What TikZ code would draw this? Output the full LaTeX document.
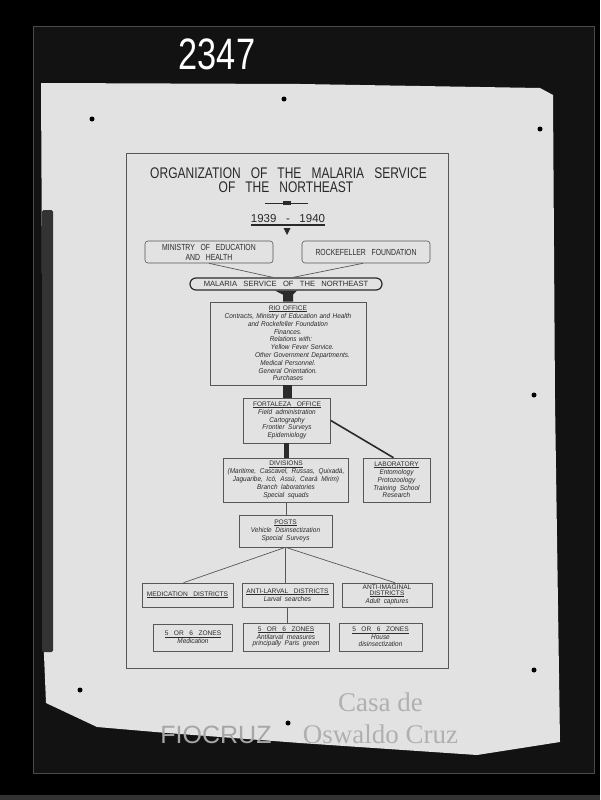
\documentclass[tikz,border=0pt]{standalone}
\usepackage{fontspec}
\usepackage{xcolor}
\usepackage{tikz}
\setmainfont{Liberation Sans}
\newfontfamily\leroy{Liberation Sans}[FakeStretch=0.78,WordSpace=3]
\newfontfamily\leroywide{Liberation Sans}[WordSpace=3]
\newfontfamily\leroyit{Liberation Sans}[FakeStretch=0.92,WordSpace=2]
\newfontfamily\wmserif{Liberation Serif}

\definecolor{paper}{HTML}{E2E2E2}
\definecolor{ink}{HTML}{2A2A2A}
\definecolor{rulegray}{HTML}{575757}
\definecolor{framedark}{HTML}{121212}
\definecolor{framegray}{HTML}{4A4A4A}
\definecolor{stripgray}{HTML}{333333}
\definecolor{watermark}{HTML}{B0B0B0}

\newcommand{\boxcap}[1]{{\leroywide\upshape\fontsize{6.6}{7.8}\selectfont #1}}
\newcommand{\boxhead}[1]{\boxcap{\setbox0\hbox{#1}\rlap{\rule[-1.1pt]{\wd0}{0.45pt}}\box0}}
\newcommand{\flushline}{\hskip 0pt plus 1filll}

\begin{document}
\begin{tikzpicture}[
    x=1pt, y=-1pt,
    line width=0.6pt,
    orgbox/.style={draw=rulegray, line width=0.6pt, inner xsep=4pt, inner ysep=2pt,
        align=center, text=ink, font=\leroyit\itshape\fontsize{7}{7.8}\selectfont},
    capbox/.style={orgbox, rounded corners=3pt, font=\leroy\fontsize{8.8}{10}\selectfont},
    link/.style={draw=rulegray, line width=0.7pt},
    bigtext/.style={text=ink, inner sep=0pt, anchor=base}
]

\useasboundingbox (0,0) rectangle (600,800);

% =========================================================
% PHOTO: plate, paper sheet, pins
% =========================================================
\fill[black] (0,0) rectangle (600,800);
\fill[framedark] (33,26) rectangle (594,773);
\draw[framegray, line width=0.8pt] (33,26) rectangle (594,773);
\fill[stripgray] (0,795) rectangle (600,800);

% paper sheet
\fill[paper] (41,83) -- (300,84) -- (540,88) -- (553,95) -- (555,400) -- (560,742)
    -- (477,755) -- (300,743) -- (167,733) -- (97,727) -- (46,703) -- (44,655) -- cycle;
\fill[stripgray, rounded corners=1.5pt] (42,210) rectangle (53,652);

% plate number
\node[font=\leroy\fontsize{44}{44}\selectfont, text=white, inner sep=0pt, anchor=base] (platenum) at (217,70) {2347};

% pins
\foreach \px/\py in {92/119, 284/99, 540/129, 534/395, 534/670, 80/690, 288/723}
    \fill[black] (\px,\py) circle (2.5pt);

% =========================================================
% CHART: title
% =========================================================
\draw[rulegray, line width=0.5pt] (126,153) rectangle (448,668);

\node[bigtext, font=\leroy\fontsize{15.4}{16}\selectfont] (title) at (288.5,178) {ORGANIZATION OF THE MALARIA SERVICE};
\node[bigtext, font=\leroy\fontsize{15.4}{16}\selectfont] (subtitle) at (286,192) {OF THE NORTHEAST};

% ornament and years
\draw[ink, line width=1pt] (265,203) -- (308,203);
\fill[ink] (283,201.3) rectangle (291,204.7);
\node[bigtext, font=\leroywide\fontsize{11.5}{12}\selectfont] (year) at (288,222) {1939 - 1940};
\draw[ink, line width=1.3pt] ([yshift=-3pt]year.base west) -- ([yshift=-3pt]year.base east);
\fill[ink] (283.5,228) -- (290.5,228) -- (287,235) -- cycle;

% =========================================================
% CHART: boxes
% =========================================================
\node[capbox, minimum width=128pt, minimum height=22pt] (min) at (209,252) {MINISTRY OF EDUCATION\\AND HEALTH};
\node[capbox, minimum width=128pt, minimum height=22pt] (rock) at (366,252) {ROCKEFELLER FOUNDATION};
\node[capbox, font=\leroywide\fontsize{7.6}{8}\selectfont, draw=ink, line width=1.2pt, rounded corners=6pt,
    minimum width=192pt, minimum height=12pt, inner ysep=1pt] (msn) at (286,284) {MALARIA SERVICE OF THE NORTHEAST};

\node[orgbox, text width=148pt, minimum height=83pt] (rio) at (288,343.5) {%
    \boxhead{RIO OFFICE}\\
    Contracts, Ministry of Education and Health\\
    and Rockefeller Foundation\\
    Finances.\\
    \hspace*{6pt}Relations with:\flushline\\
    \hspace*{29pt}Yellow Fever Service.\flushline\\
    \hspace*{29pt}Other Government Departments.\flushline\\
    Medical Personnel.\\
    General Orientation.\\
    Purchases};

\node[orgbox, minimum width=87pt, minimum height=45pt] (fort) at (287,420.5) {%
    \boxhead{FORTALEZA OFFICE}\\ Field administration\\ Cartography\\ Frontier Surveys\\ Epidemiology};

\node[orgbox, minimum width=124pt, minimum height=44pt] (div) at (286,480) {%
    \boxhead{DIVISIONS}\\ (Maritime, Cascavel, Russas, Quixadá,\\ Jaguaribe, Icó, Assú, Ceará Mirim)\\
    Branch laboratories\\ Special squads};
\node[orgbox, minimum width=67pt, minimum height=44pt] (lab) at (396.5,480) {%
    \boxhead{LABORATORY}\\ Entomology\\ Protozoology\\ Training School\\ Research};

\node[orgbox, minimum width=93pt, minimum height=32pt] (posts) at (285.5,531) {%
    \boxhead{POSTS}\\ Vehicle Disinsectization\\ Special Surveys};

% districts
\node[orgbox, minimum width=91pt, minimum height=24pt] (med) at (187.5,595) {\boxhead{MEDICATION DISTRICTS}};
\node[orgbox, minimum width=91pt, minimum height=24pt] (larv) at (287.5,595) {%
    \boxhead{ANTI-LARVAL DISTRICTS}\\ Larval searches};
\node[orgbox, minimum width=90pt, minimum height=24pt, inner ysep=1pt] (imag) at (387,595) {%
    \boxcap{ANTI-IMAGINAL}\\[-1.5pt] \boxhead{DISTRICTS}\\ Adult captures};

% zones
\node[orgbox, minimum width=79pt, minimum height=27pt] (zmed) at (193,637.5) {%
    \boxhead{5 OR 6 ZONES}\\ Medication};
\node[orgbox, minimum width=86pt, minimum height=28pt, inner ysep=1pt] (zlarv) at (286,637) {%
    \boxhead{5 OR 6 ZONES}\\ Antilarval measures\\[-1pt] principally Paris green};
\node[orgbox, minimum width=83pt, minimum height=28pt, inner ysep=1pt] (zimag) at (380.5,637) {%
    \boxhead{5 OR 6 ZONES}\\ House\\[-1pt] disinsectization};

% =========================================================
% CHART: connectors
% =========================================================
\draw[link] (min.south) -- ([xshift=-13pt]msn.north);
\draw[link] ([xshift=-3pt]rock.south) -- ([xshift=7pt]msn.north);

% funnel and heavy bars
\fill[ink] ([xshift=-11pt]msn.south) -- ([xshift=11pt]msn.south) -- ([xshift=5pt,yshift=7pt]rio.north)
    -- ([xshift=5pt]rio.north) -- ([xshift=-5pt]rio.north) -- ([xshift=-5pt,yshift=7pt]rio.north) -- cycle;
\fill[ink] ([xshift=-5pt]rio.south) rectangle ([xshift=5pt]fort.north);
\fill[ink] ([xshift=-3pt]fort.south) rectangle ([xshift=3pt]div.north);
\draw[ink, line width=1.6pt] (fort.east) -- ([xshift=-3pt]lab.north);

\draw[link] (div.south) -- (div.south |- posts.north);
\draw[link] (posts.south) -- ([xshift=-4pt]med.north);
\draw[link] (posts.south) -- (posts.south |- larv.north);
\draw[link] (posts.south) -- ([xshift=8pt]imag.north);
\draw[link] (larv.south) -- (larv.south |- zlarv.north);

% =========================================================
% WATERMARK
% =========================================================
\node[font=\fontsize{25}{28}\selectfont, text=gray!70, inner sep=0pt, anchor=base] (fiocruz) at (216,743) {FIOCRUZ};
\node[font=\wmserif\fontsize{27}{30}\selectfont, text=watermark, inner sep=0pt, anchor=base] (casa) at (380.5,711) {Casa de};
\node[font=\wmserif\fontsize{27}{30}\selectfont, text=watermark, inner sep=0pt, anchor=base] (oswaldo) at (380.5,743) {Oswaldo Cruz};

\end{tikzpicture}
\end{document}
